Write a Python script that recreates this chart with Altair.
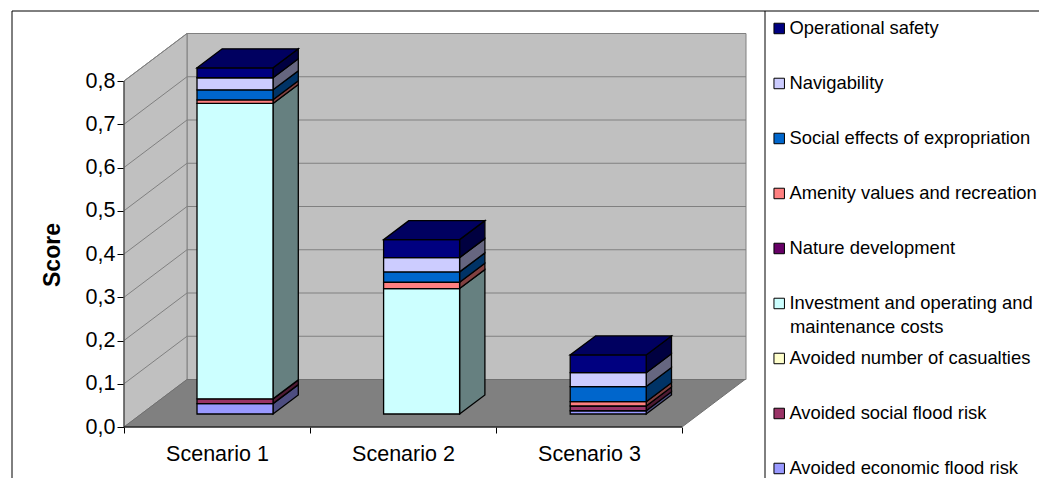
import altair as alt
import pandas as pd

scenarios = ["Scenario 1", "Scenario 2", "Scenario 3"]
series = ["Operational safety", "Navigability", "Social effects of expropriation",
          "Amenity values and recreation", "Nature development",
          "Investment and operating and",
          "Avoided number of casualties", "Avoided social flood risk",
          "Avoided economic flood risk"]
continuation = ["maintenance costs"]
front_colors = ["#000080", "#CCCCFF", "#0066CC", "#FF8080", "#660066", "#CCFFFF", "#FFFFCC", "#993366", "#9999FF"]
side_colors = ["#000040", "#666680", "#003366", "#804040", "#330033", "#668080", "#808066", "#4D1A33", "#4D4D80"]
top_color = "#000060"
s1 = [0.023, 0.028, 0.023, 0.0085, 0.0, 0.683, 0.0, 0.011, 0.024]
s2 = [0.0416, 0.033, 0.024, 0.0146, 0.0, 0.290, 0.0, 0.0, 0.0]
s3 = [0.041, 0.032, 0.035, 0.010, 0.0, 0.0, 0.0, 0.011, 0.0075]
tick_values = [0.0, 0.1, 0.2, 0.3, 0.4, 0.5, 0.6, 0.7, 0.8]

# oblique projection, in data units (band units across, score units up)
X_MAX, Y_MAX = 622 / 186, 394 / 432.5
WALL_DX, WALL_DY = 63 / 186, 47.5 / 432.5
BAR_DX, BAR_DY = 25.3 / 186, 19 / 432.5
BASE_DX = 73 / 186
BAR_W = 76 / 186
BASE_DY = 13 / 432.5

fronts, sides, tops = [], [], []
for i, (name, vals) in enumerate(zip(scenarios, [s1, s2, s3])):
    left = i * 186.6 / 186 + BASE_DX
    right = left + BAR_W
    v0 = BASE_DY
    for j in range(len(series) - 1, -1, -1):
        v = vals[j]
        if v <= 0:
            continue
        fronts.append(dict(sc=name, x=left, x2=right, y=v0, y2=v0 + v, series=series[j]))
        fid = f"{i}-{j}"
        sides.append(dict(fid=fid, x=right, y=v0, y2=v0 + v, fill=side_colors[j]))
        sides.append(dict(fid=fid, x=right + BAR_DX, y=v0 + BAR_DY, y2=v0 + v + BAR_DY, fill=side_colors[j]))
        v0 += v
    tops.append(dict(fid=i, y=v0, x=left, x2=right))
    tops.append(dict(fid=i, y=v0 + BAR_DY, x=left + BAR_DX, x2=right + BAR_DX))

X = alt.Scale(domain=[0, X_MAX], nice=False, zero=False)
Y = alt.Scale(domain=[0, Y_MAX], nice=False, zero=False)
FONT = "Liberation Sans"
GRID = "#808080"

axis_x = alt.Axis(
    values=[0, 0.5, 1, 1.5, 2, 2.5, 3], title=None, grid=False, domain=False,
    tickSize=6, tickColor="#000000",
    tickOpacity={"expr": "datum.value % 1 == 0 ? 1 : 0"},
    labelExpr="datum.value % 1 == 0 ? '' : ['" + "','".join(scenarios) + "'][floor(datum.value)]",
    labelFont=FONT, labelFontSize=21.5, labelColor="#000000", labelPadding=10, labelOverlap=False, labelFlush=False,
)
axis_y = alt.Axis(
    values=tick_values, title="Score", grid=False, domain=False, tickSize=7, tickColor="#000000",
    labelExpr="replace(format(datum.value, '.1f'), '.', ',')",
    labelFont=FONT, labelFontSize=21.5, labelColor="#000000", labelPadding=2, labelOverlap=False,
    titleFont=FONT, titleFontSize=23, titleFontWeight="bold", titleColor="#000000", titleX=-60, titleY=221.5,
)

def xq(f="x"):
    return alt.X(f + ":Q", scale=X, axis=axis_x)

def yq(f="y"):
    return alt.Y(f + ":Q", scale=Y, axis=axis_y, stack=None)

back = alt.Chart(pd.DataFrame([dict(x=WALL_DX, x2=X_MAX, y=WALL_DY, y2=0.8 + WALL_DY)])).mark_rect(
    fill="#C0C0C0", stroke=GRID, strokeWidth=1
).encode(x=xq(), x2="x2:Q", y=yq(), y2="y2:Q")

left_wall = alt.Chart(pd.DataFrame([dict(x=0, y=0, y2=0.8), dict(x=WALL_DX, y=WALL_DY, y2=0.8 + WALL_DY)])).mark_area(
    fill="#C0C0C0", stroke=GRID, strokeWidth=1
).encode(x=xq(), y=yq(), y2="y2:Q")

floor = alt.Chart(pd.DataFrame([dict(y=0, x=0, x2=3), dict(y=WALL_DY, x=WALL_DX, x2=3 + WALL_DX)])).mark_area(
    orient="horizontal", fill="#808080", stroke="#707070", strokeWidth=1
).encode(y=yq(), x=xq(), x2="x2:Q")

grid_rows = []
for v in tick_values[1:]:
    grid_rows += [dict(v=v, x=0, y=v), dict(v=v, x=WALL_DX, y=v + WALL_DY), dict(v=v, x=X_MAX, y=v + WALL_DY)]
grid = alt.Chart(pd.DataFrame(grid_rows)).mark_line(color=GRID, strokeWidth=1).encode(
    x=xq(), y=yq(), detail="v:N"
)

y_line = alt.Chart(pd.DataFrame([dict(x=0, y=0, y2=0.8)])).mark_rule(color="#333333", strokeWidth=1).encode(
    x=xq(), y=yq(), y2="y2:Q")
x_line = alt.Chart(pd.DataFrame([dict(y=0, x=0, x2=3)])).mark_rule(color="#000000", strokeWidth=1).encode(
    y=yq(), x=xq(), x2="x2:Q")

side_layer = alt.Chart(pd.DataFrame(sides)).mark_area(stroke="#000000", strokeWidth=1.3).encode(
    x=xq(), y=yq(), y2="y2:Q", detail="fid:N", fill=alt.Fill("fill:N", scale=None)
)
front_layer = alt.Chart(pd.DataFrame(fronts)).mark_rect(stroke="#000000", strokeWidth=1.3).encode(
    x=xq(), x2="x2:Q", y=yq(), y2="y2:Q",
    color=alt.Color("series:N", scale=alt.Scale(domain=series, range=front_colors), sort=series, legend=alt.Legend(
        title=None, orient="none", legendX=646, legendY=-31.9, symbolType="square", symbolSize=110,
        symbolStrokeColor="#000000", symbolStrokeWidth=1, symbolOpacity=1,
        labelFont=FONT, labelFontSize=18.4, labelColor="#000000", labelLimit=300, labelOffset=1,
        rowPadding=0, clipHeight=54.75, values=series,
    )),
)
top_layer = alt.Chart(pd.DataFrame(tops)).mark_area(
    orient="horizontal", fill=top_color, stroke="#000000", strokeWidth=1.3
).encode(y=yq(), x=xq(), x2="x2:Q", detail="fid:N")

legend_line2 = alt.Chart(pd.DataFrame({"t": continuation})).mark_text(
    font=FONT, fontSize=18.4, color="#000000", align="left", baseline="middle"
).encode(x=alt.value(666), y=alt.value(294), text="t:N")

frame_top = alt.Chart(pd.DataFrame({"a": [0]})).mark_rule(color="#000000", strokeWidth=1).encode(
    x=alt.value(-112), x2=alt.value(915), y=alt.value(-22))
frame_left = alt.Chart(pd.DataFrame({"a": [0]})).mark_rule(color="#000000", strokeWidth=1).encode(
    x=alt.value(-112), y=alt.value(-22), y2=alt.value(445))
frame_sep = alt.Chart(pd.DataFrame({"a": [0]})).mark_rule(color="#000000", strokeWidth=1).encode(
    x=alt.value(641), y=alt.value(-22), y2=alt.value(445))

chart = alt.layer(back, left_wall, floor, grid, y_line, x_line, side_layer, front_layer, top_layer,
                  legend_line2, frame_top, frame_left, frame_sep).properties(
    width=622, height=394,
    autosize=alt.AutoSizeParams(type="none"),
    padding={"left": 116, "top": 25, "right": 293, "bottom": 51},
    background="#FFFFFF",
).configure_view(stroke=None)

chart.save("out.html", embed_options={"renderer": "svg", "actions": False})
